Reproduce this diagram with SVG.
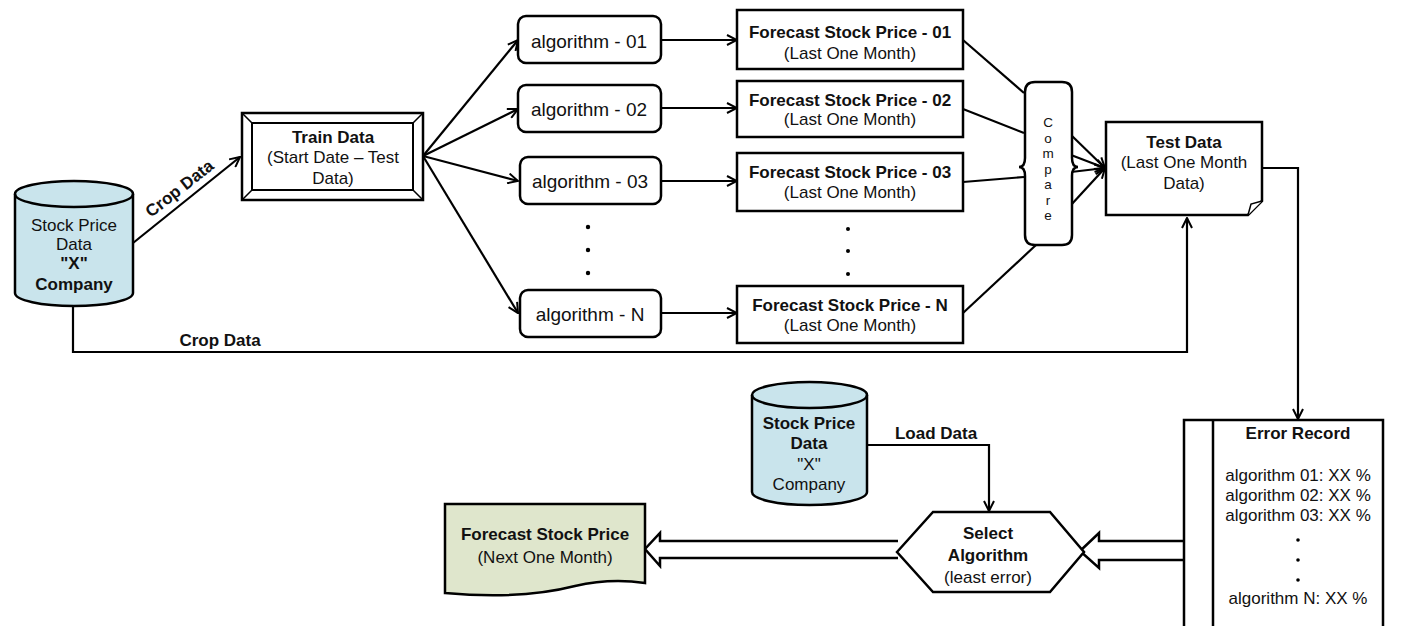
<svg xmlns="http://www.w3.org/2000/svg" width="1405" height="626" viewBox="0 0 1405 626">
  <defs>
    <marker id="arr" viewBox="0 0 12 12" refX="11" refY="6" markerWidth="12" markerHeight="12" markerUnits="userSpaceOnUse" orient="auto">
      <path d="M1,1 L11,6 L1,11" fill="none" stroke="#000" stroke-width="2"/>
    </marker>
    <style>
      text { font-family: "Liberation Sans", Arial, sans-serif; fill: #111; text-anchor: middle; font-size: 17px; }
      .b { font-weight: bold; }
      .algo { font-size: 19px; }
      .vert { font-size: 13.5px; }
      .shape { fill: #fff; stroke: #000; stroke-width: 2.5; }
      .db { fill: #c9e4ec; stroke: #000; stroke-width: 2.5; }
      .edge { fill: none; stroke: #000; stroke-width: 2.2; }
      .fat { fill: #fff; stroke: #000; stroke-width: 2.5; stroke-linejoin: miter; }
    </style>
  </defs>

  <!-- connectors -->
  <g id="connectors">
    <!-- source to train data -->
    <path class="edge" d="M133,243 L240,157" marker-end="url(#arr)"/>
    <text class="b" transform="translate(183,193) rotate(-38)">Crop Data</text>
    <!-- source to test data -->
    <path class="edge" d="M73,307 V352 H1187 V218" marker-end="url(#arr)"/>
    <text class="b" x="220" y="346">Crop Data</text>
    <!-- train data to algorithms -->
    <path class="edge" d="M423,156 L518,40" marker-end="url(#arr)"/>
    <path class="edge" d="M423,156 L518,109" marker-end="url(#arr)"/>
    <path class="edge" d="M423,156 L518,181" marker-end="url(#arr)"/>
    <path class="edge" d="M423,156 L518,313" marker-end="url(#arr)"/>
    <!-- algorithms to forecasts -->
    <path class="edge" d="M661,40 H737" marker-end="url(#arr)"/>
    <path class="edge" d="M661,108 H737" marker-end="url(#arr)"/>
    <path class="edge" d="M661,181 H737" marker-end="url(#arr)"/>
    <path class="edge" d="M661,313 H737" marker-end="url(#arr)"/>
    <!-- forecasts to compare -->
    <path class="edge" d="M963,40 L1024,93"/>
    <path class="edge" d="M963,109 L1024,133"/>
    <path class="edge" d="M963,182 L1024,177"/>
    <path class="edge" d="M963,313 L1036,245"/>
    <!-- compare to test data -->
    <path class="edge" d="M1071,135 L1105,168" marker-end="url(#arr)"/>
    <path class="edge" d="M1071,155 L1105,168" marker-end="url(#arr)"/>
    <path class="edge" d="M1071,172 L1105,168" marker-end="url(#arr)"/>
    <path class="edge" d="M1071,205 L1105,168" marker-end="url(#arr)"/>
    <!-- test data to error record -->
    <path class="edge" d="M1262,168 H1298 V419" marker-end="url(#arr)"/>
    <!-- load data -->
    <path class="edge" d="M867,445 H989 V511" marker-end="url(#arr)"/>
    <text class="b" x="936" y="439">Load Data</text>
    <!-- block arrow: error record to select -->
    <path class="fat" d="M1184,541 H1099 V533 L1080,551 L1099,568 V560 H1184"/>
    <!-- block arrow: select to result -->
    <path class="fat" d="M898,541 H660 V533 L645,549 L660,566 V558 H898"/>
  </g>

  <!-- source database -->
  <g id="db-source">
    <path class="db" d="M15,194 A59,13 0 0 1 133,194 V293 A59,13 0 0 1 15,293 Z"/>
    <path fill="none" stroke="#000" stroke-width="2.5" d="M15,194 A59,13 0 0 0 133,194"/>
    <text x="74" y="231">Stock Price</text>
    <text x="74" y="250">Data</text>
    <text class="b" x="74" y="269">"X"</text>
    <text class="b" x="74" y="290">Company</text>
  </g>

  <!-- train data -->
  <g id="train-data">
    <rect class="shape" x="242" y="113" width="181" height="87"/>
    <rect fill="none" stroke="#000" stroke-width="2" x="252" y="123" width="161" height="67"/>
    <path stroke="#000" stroke-width="1.5" d="M242,113 L252,123 M423,113 L413,123 M242,200 L252,190 M423,200 L413,190"/>
    <text class="b" x="333" y="143">Train Data</text>
    <text x="333" y="163">(Start Date – Test</text>
    <text x="333" y="184">Data)</text>
  </g>

  <!-- algorithms -->
  <g id="algo-01">
    <rect class="shape" x="518" y="16" width="143" height="47" rx="8"/>
    <text class="algo" x="589" y="48">algorithm - 01</text>
  </g>
  <g id="algo-02">
    <rect class="shape" x="518" y="85" width="143" height="47" rx="8"/>
    <text class="algo" x="589" y="116">algorithm - 02</text>
  </g>
  <g id="algo-03">
    <rect class="shape" x="520" y="157" width="141" height="47" rx="8"/>
    <text class="algo" x="590" y="188">algorithm - 03</text>
  </g>
  <g id="algo-dots">
    <circle cx="588" cy="227" r="2.2"/>
    <circle cx="588" cy="250" r="2.2"/>
    <circle cx="588" cy="273" r="2.2"/>
  </g>
  <g id="algo-n">
    <rect class="shape" x="520" y="290" width="141" height="47" rx="8"/>
    <text class="algo" x="590" y="321">algorithm - N</text>
  </g>

  <!-- forecasts for the test month -->
  <g id="forecast-01">
    <rect class="shape" x="737" y="10" width="226" height="59"/>
    <text class="b" x="850" y="38">Forecast Stock Price - 01</text>
    <text x="850" y="59">(Last One Month)</text>
  </g>
  <g id="forecast-02">
    <rect class="shape" x="737" y="81" width="226" height="56"/>
    <text class="b" x="850" y="106">Forecast Stock Price - 02</text>
    <text x="850" y="125">(Last One Month)</text>
  </g>
  <g id="forecast-03">
    <rect class="shape" x="737" y="153" width="226" height="58"/>
    <text class="b" x="850" y="178">Forecast Stock Price - 03</text>
    <text x="850" y="198">(Last One Month)</text>
  </g>
  <g id="forecast-dots">
    <circle cx="848" cy="229" r="2"/>
    <circle cx="848" cy="251" r="2"/>
    <circle cx="848" cy="274" r="2"/>
  </g>
  <g id="forecast-n">
    <rect class="shape" x="737" y="286" width="226" height="57"/>
    <text class="b" x="850" y="311">Forecast Stock Price - N</text>
    <text x="850" y="331">(Last One Month)</text>
  </g>

  <!-- compare: letters stacked vertically -->
  <g id="compare">
    <path class="shape" d="M1035,82 H1062 Q1072,82 1072,92 V158 Q1072,167 1078,167 Q1072,167 1072,176 V235 Q1072,245 1062,245 H1035 Q1025,245 1025,235 V176 Q1025,167 1019,167 Q1025,167 1025,158 V92 Q1025,82 1035,82 Z"/>
    <text class="vert" x="1048" y="127">C<tspan x="1048" dy="15.5">o</tspan><tspan x="1048" dy="15.5">m</tspan><tspan x="1048" dy="15.5">p</tspan><tspan x="1048" dy="15.5">a</tspan><tspan x="1048" dy="15.5">r</tspan><tspan x="1048" dy="15.5">e</tspan></text>
  </g>

  <!-- test data -->
  <g id="test-data">
    <path class="shape" d="M1106,122 H1262 V201 L1248,215 H1106 Z"/>
    <path fill="#fff" stroke="#000" stroke-width="1.5" d="M1248,215 L1251,204 L1262,201"/>
    <text class="b" x="1184" y="148">Test Data</text>
    <text x="1184" y="168">(Last One Month</text>
    <text x="1184" y="189">Data)</text>
  </g>

  <!-- error record -->
  <g id="error-record">
    <path class="shape" d="M1184,632 V420 H1383 V632"/>
    <path stroke="#000" stroke-width="2.5" d="M1213,420 V632"/>
    <text class="b" x="1298" y="439">Error Record</text>
    <text x="1298" y="481">algorithm 01: XX %</text>
    <text x="1298" y="501">algorithm 02: XX %</text>
    <text x="1298" y="521">algorithm 03: XX %</text>
    <circle cx="1298" cy="540" r="1.8"/>
    <circle cx="1298" cy="560" r="1.8"/>
    <circle cx="1298" cy="580" r="1.8"/>
    <text x="1298" y="604">algorithm N: XX %</text>
  </g>

  <!-- second database -->
  <g id="db-load">
    <path class="db" d="M752,395 A57.5,13 0 0 1 867,395 V492 A57.5,13 0 0 1 752,492 Z"/>
    <path fill="none" stroke="#000" stroke-width="2.5" d="M752,395 A57.5,13 0 0 0 867,395"/>
    <text class="b" x="809" y="429">Stock Price</text>
    <text class="b" x="809" y="449">Data</text>
    <text x="809" y="470">"X"</text>
    <text x="809" y="490">Company</text>
  </g>

  <!-- select algorithm -->
  <g id="select-algorithm">
    <path class="shape" d="M897,552 L933,512 H1050 L1084,552 L1050,592 H933 Z"/>
    <text class="b" x="988" y="539">Select</text>
    <text class="b" x="988" y="561">Algorithm</text>
    <text x="988" y="583">(least error)</text>
  </g>

  <!-- final forecast -->
  <g id="forecast-next">
    <path fill="#dfe6cc" stroke="#000" stroke-width="2.5" d="M445,504 H645 V583 Q610,578 575,586 Q520,600 445,593 Z"/>
    <text class="b" x="545" y="540">Forecast Stock Price</text>
    <text x="545" y="563">(Next One Month)</text>
  </g>
</svg>
